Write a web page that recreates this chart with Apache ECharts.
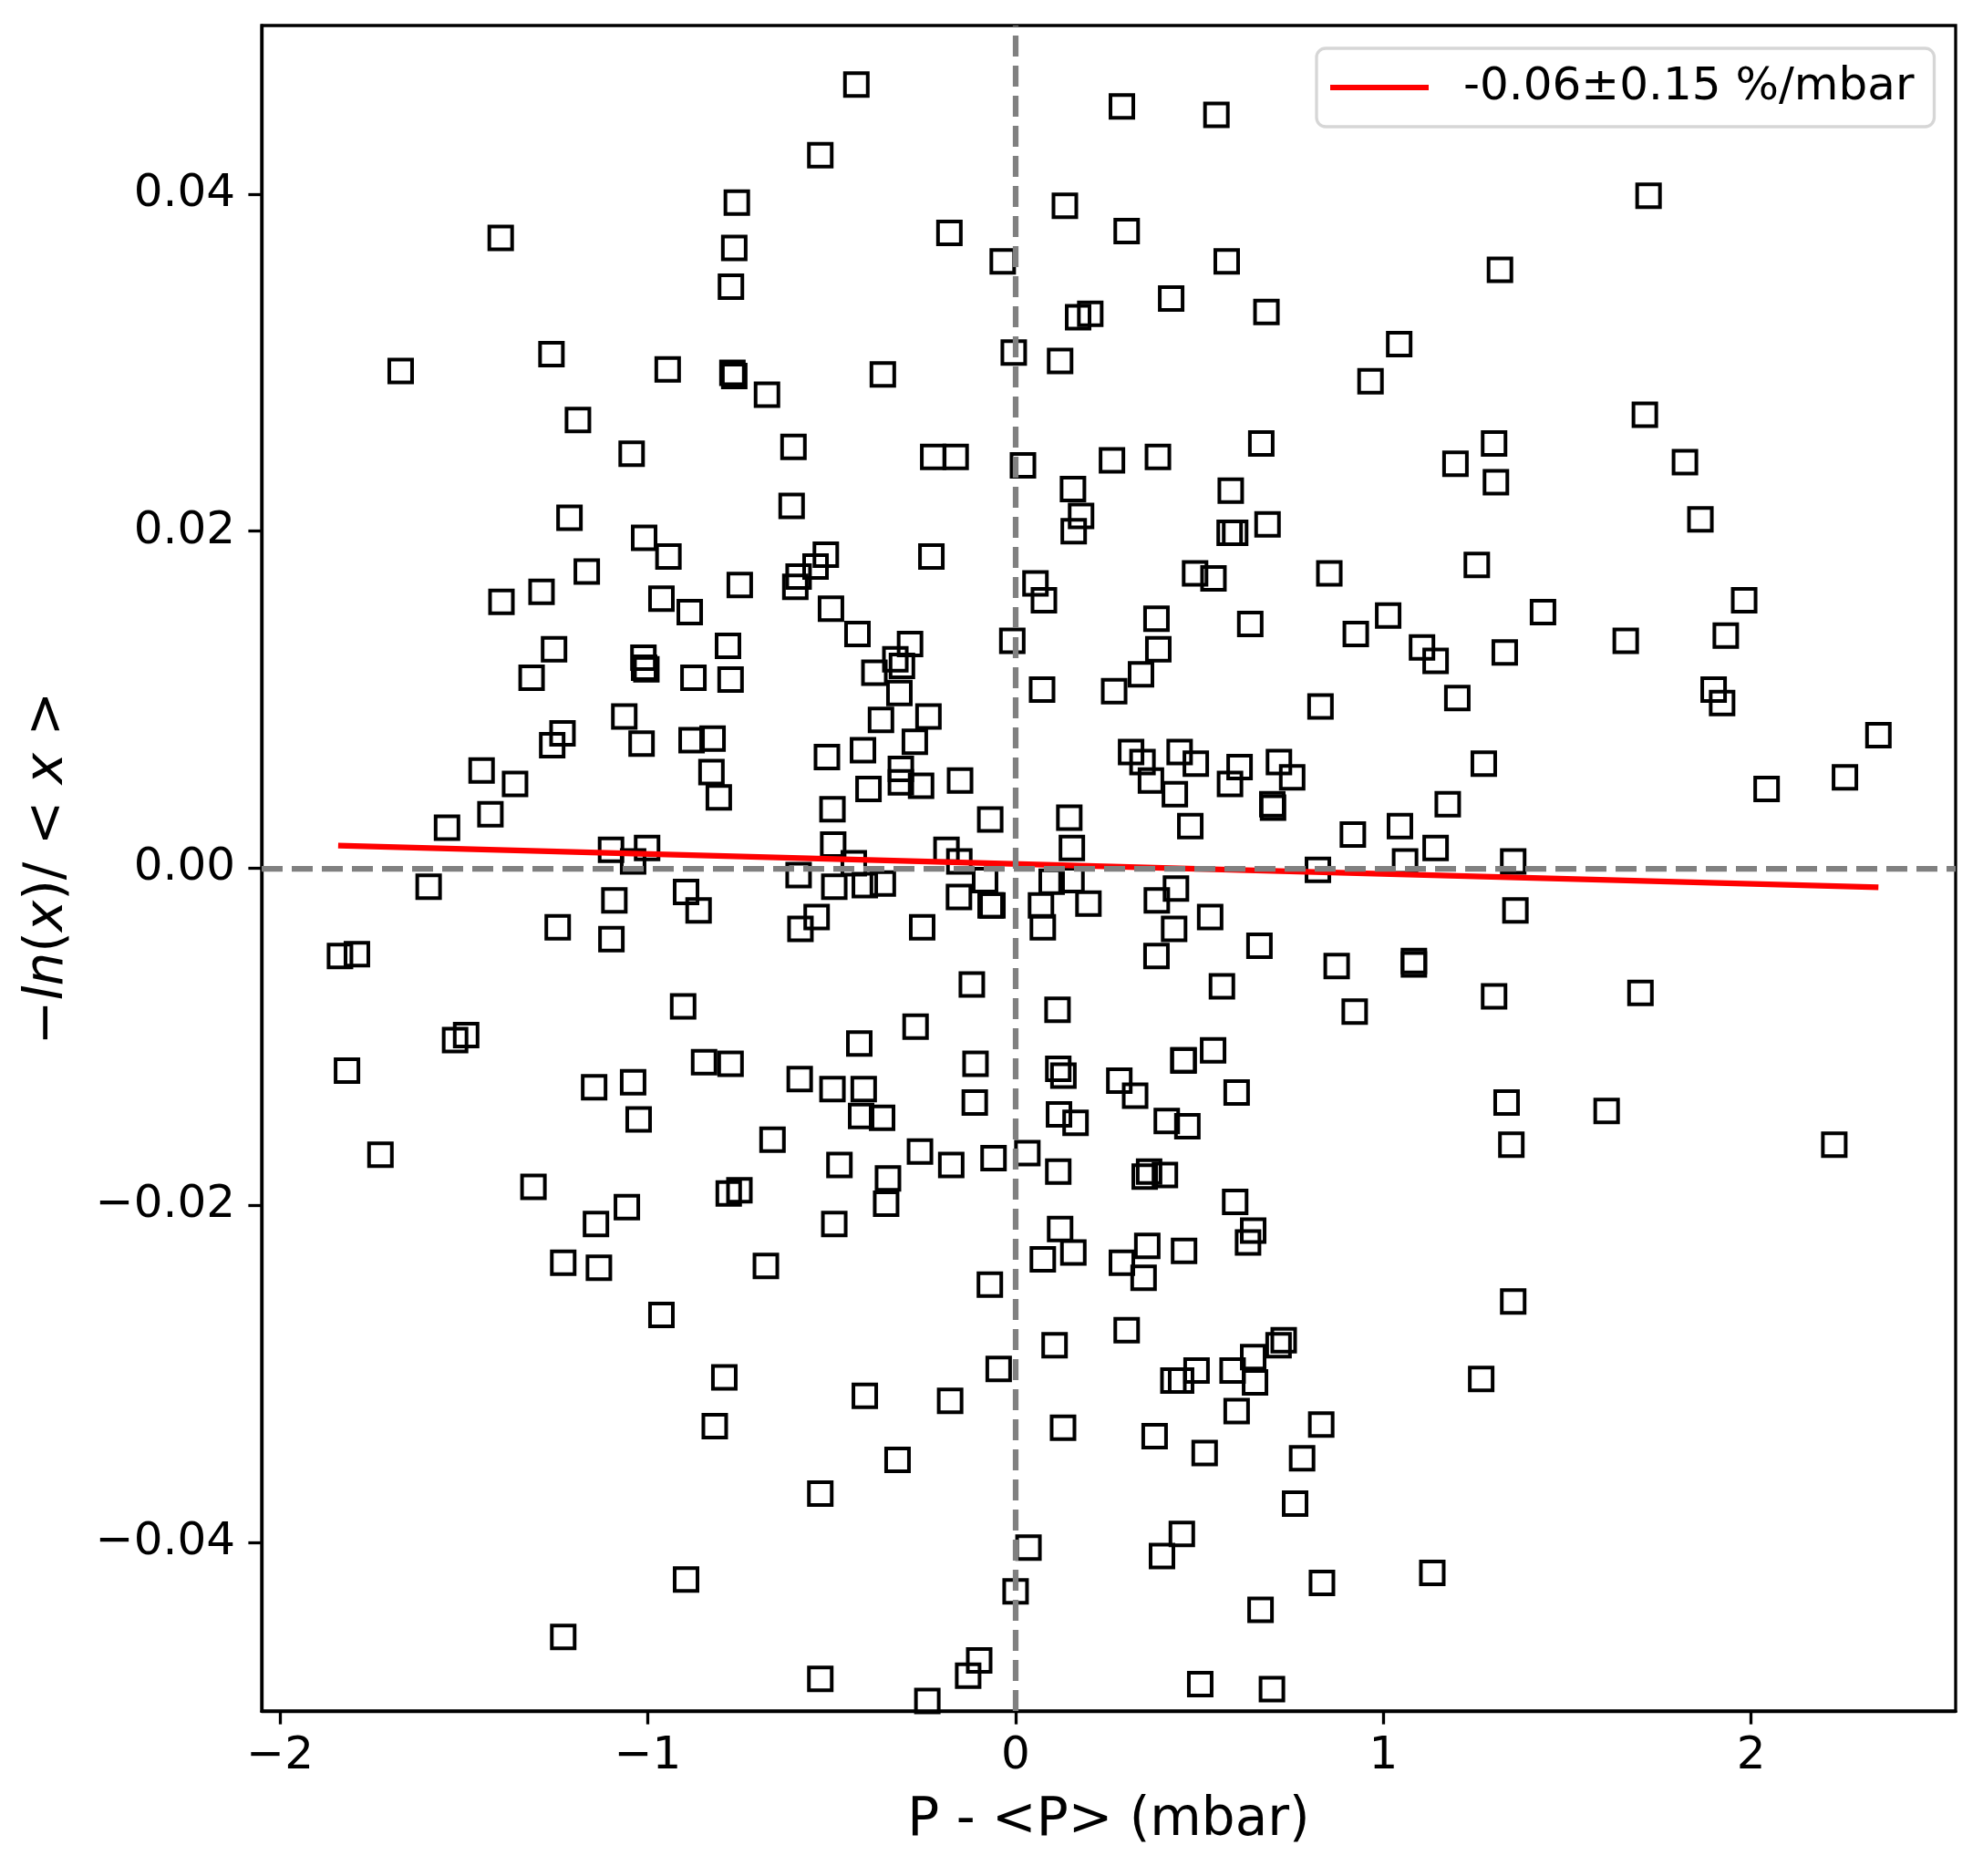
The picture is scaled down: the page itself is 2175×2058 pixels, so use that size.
<!DOCTYPE html>
<html>
<head>
<meta charset="utf-8">
<script src="https://cdn.jsdelivr.net/npm/echarts@6/dist/echarts.min.js"></script>
<style>
  html, body { margin: 0; padding: 0; background: #fff; }
  #chart { width: 2175px; height: 2058px; }
</style>
</head>
<body>
<div id="chart"></div>
<script>
// pressure deviation (mbar) of each run
const pX = [
  -0.531, -0.758, -1.400, -0.765, -0.774, -1.672, -1.262, -0.946, -0.770, -0.765, -0.676, -1.190,
  -0.433, 0.289, 0.546, 0.134, -0.180, 0.302, -0.035, 0.574, 0.423, 0.682, 0.170, 0.203, 1.043, -0.005, 0.121, -0.361, 0.965, 0.668,
  1.721, 1.317, 1.711, 1.301,
  -1.044, -0.604, -1.213, -0.609, -1.010, -0.944, -1.166, -0.599, -0.590, -0.544, -0.516, -1.398, -1.289, -0.963, -0.886, -0.750,
  -0.502, -1.255, -1.316, -1.012, -1.010, -1.004, -0.876, -0.782, -0.775, -1.064, -1.232, -1.260, -1.017, -0.881, -0.824, -1.452,
  -1.361, -0.827, -0.807, -1.428, -1.546, -0.513, -0.498, -0.496, -1.100, -1.002, -1.040, -0.590,
  -0.224, -0.163, 0.020, 0.262, 0.387, 0.156, 0.585, 0.178, 0.158, 0.582, 0.597, 0.685, -0.229, 0.054, 0.077, 0.488, 0.538, 0.853,
  -0.430, -0.287, -0.327, -0.309, -0.384, -0.316, -0.009, 0.383, 0.388, 0.341, 0.072, 0.268, 0.638, 0.925, 1.013, 0.829,
  -0.366, -0.237, -0.274, -0.415, -0.312, -0.312, -0.257, -0.400, -0.151, -0.069, 0.146, 0.153, -0.440, -0.188, -0.153,
  0.314, 0.345, 0.368, 0.446, 0.490, 0.433, 0.609, 0.583, 0.716, 0.752, 0.698, 0.700, 0.475, 0.917, 1.045, 0.822,
  1.196, 1.306, 1.820, 1.862, 1.254, 1.981, 1.434, 1.105, 1.142, 1.330, 1.659, 1.931, 1.201, 1.898, 1.921, 2.346, 1.273, 2.042,
  2.255, 1.175, 1.142, 1.059, 1.353,
  -1.596, -1.091, -0.896, -0.862, -0.541, -0.585, -1.245, -1.099, -1.837, -1.791, -0.904, -1.524, -1.494, -1.818, -1.146, -1.040,
  -0.847, -0.775, -0.587, -1.025, -1.727, -0.661, -1.311, -1.057, -1.141, -0.780, -0.751, -1.230, -1.133, -0.679,
  -0.493, -0.410, -0.361, -0.154, -0.083, -0.068, -0.063, -0.254, 0.098, 0.152, 0.069, 0.074, 0.198, 0.384, 0.436, 0.529, 0.431,
  0.383, 0.663, 0.873, 0.561, 0.922, -0.119, 0.114, -0.272, -0.425, -0.109, 0.116, 0.130, 0.456, 0.457, 0.537, 0.282, 0.325,
  0.601, -0.498, -0.413, -0.420, -0.363, -0.111, 0.118, 0.163, 0.411, 0.467, -0.479, -0.260, -0.175, -0.347, -0.352, -0.060,
  0.032, 0.116, 0.363, 0.351, 0.406, 0.597, -0.493, 0.121, 0.157, 0.074, 0.358, 0.289, 0.348, 0.458, 0.646, 0.632, -0.070,
  1.359, 1.083, 1.083, 1.301, 1.699, 1.335, 1.607, 1.348, 2.226, 1.353,
  -0.963, -0.792, -0.818, -0.531, -0.896, -1.230, -0.531,
  0.302, 0.106, -0.046, -0.410, -0.178, 0.729, 0.715, 0.646, 0.492, 0.429, 0.450, 0.590, 0.651, 0.601, 0.129, 0.378, 0.831,
  0.514, 0.779, -0.321, 0.760, 0.452, 0.398, 0.035, 0.000, 0.833, 0.666, -0.099, -0.129, -0.240, 0.502, 0.697,
  1.266, 1.133
];
// -ln(x)/<x> of each run, same order
const pY = [
  0.0423, 0.0395, 0.0374, 0.0368, 0.0345, 0.0295, 0.0305, 0.0296, 0.0294, 0.0292, 0.0281, 0.0266,
  0.0465, 0.0452, 0.0447, 0.0393, 0.0377, 0.0378, 0.0360, 0.0360, 0.0338, 0.0330, 0.0327, 0.0329, 0.0311, 0.0306, 0.0301, 0.0293, 0.0289, 0.0252,
  0.0399, 0.0355, 0.0269, 0.0252,
  0.0246, 0.0250, 0.0208, 0.0215, 0.0196, 0.0185, 0.0176, 0.0167, 0.0173, 0.0179, 0.0186, 0.0158, 0.0164, 0.0160, 0.0152, 0.0168,
  0.0154, 0.0130, 0.0113, 0.0125, 0.0119, 0.0118, 0.0113, 0.0132, 0.0112, 0.0090, 0.0080, 0.0073, 0.0074, 0.0076, 0.0077, 0.0058,
  0.0050, 0.0057, 0.0042, 0.0032, 0.0024, 0.0066, 0.0035, 0.0014, 0.0011, 0.0012, 0.0004, -0.0004,
  0.0244, 0.0244, 0.0239, 0.0242, 0.0244, 0.0225, 0.0224, 0.0209, 0.0200, 0.0199, 0.0199, 0.0204, 0.0185, 0.0169, 0.0159, 0.0175, 0.0172, 0.0175,
  0.0139, 0.0133, 0.0124, 0.0120, 0.0116, 0.0104, 0.0135, 0.0148, 0.0130, 0.0115, 0.0106, 0.0105, 0.0145, 0.0139, 0.0150, 0.0096,
  0.0088, 0.0090, 0.0075, 0.0070, 0.0059, 0.0051, 0.0049, 0.0047, 0.0052, 0.0029, 0.0030, 0.0012, 0.0003, 0.0011, 0.0004,
  0.0069, 0.0063, 0.0052, 0.0069, 0.0062, 0.0044, 0.0060, 0.0050, 0.0063, 0.0054, 0.0038, 0.0036, 0.0025, 0.0020, 0.0025, -0.0001,
  0.0240, 0.0229, 0.0241, 0.0207, 0.0180, 0.0159, 0.0152, 0.0131, 0.0123, 0.0128, 0.0135, 0.0138, 0.0101, 0.0106, 0.0098, 0.0079, 0.0062, 0.0047,
  0.0054, 0.0038, 0.0012, 0.0004, 0.0004,
  -0.0011, -0.0019, -0.0014, -0.0025, -0.0029, -0.0036, -0.0035, -0.0042, -0.0052, -0.0051, -0.0082, -0.0102, -0.0099, -0.0120, -0.0130, -0.0127,
  -0.0115, -0.0116, -0.0125, -0.0149, -0.0170, -0.0161, -0.0189, -0.0201, -0.0211, -0.0193, -0.0191, -0.0234, -0.0237, -0.0236,
  -0.0011, -0.0010, -0.0009, -0.0017, -0.0007, -0.0022, -0.0022, -0.0035, -0.0008, -0.0007, -0.0022, -0.0035, -0.0021, -0.0019, -0.0012, -0.0029, -0.0036,
  -0.0052, -0.0046, -0.0058, -0.0070, -0.0085, -0.0069, -0.0084, -0.0094, -0.0104, -0.0116, -0.0119, -0.0123, -0.0114, -0.0114, -0.0108, -0.0126, -0.0135,
  -0.0133, -0.0131, -0.0131, -0.0147, -0.0148, -0.0139, -0.0146, -0.0151, -0.0150, -0.0153, -0.0176, -0.0168, -0.0176, -0.0184, -0.0199, -0.0172,
  -0.0169, -0.0180, -0.0180, -0.0183, -0.0182, -0.0198, -0.0211, -0.0214, -0.0228, -0.0232, -0.0224, -0.0234, -0.0243, -0.0227, -0.0215, -0.0222, -0.0247,
  -0.0025, -0.0055, -0.0057, -0.0076, -0.0074, -0.0139, -0.0144, -0.0164, -0.0164, -0.0257,
  -0.0265, -0.0302, -0.0331, -0.0371, -0.0422, -0.0456, -0.0481,
  -0.0274, -0.0283, -0.0297, -0.0313, -0.0316, -0.0280, -0.0283, -0.0290, -0.0298, -0.0304, -0.0304, -0.0298, -0.0305, -0.0322, -0.0332, -0.0337, -0.0330,
  -0.0347, -0.0350, -0.0351, -0.0377, -0.0395, -0.0408, -0.0403, -0.0429, -0.0424, -0.0440, -0.0470, -0.0479, -0.0494, -0.0484, -0.0487,
  -0.0303, -0.0418
];

// linear fit, end points
const fitX = [-1.842, 2.346];
const fitY = [0.00135, -0.00113];
const fitName = '-0.06±0.15 %/mbar';

const xTicks = [-2, -1, 0, 1, 2];
const yTicks = [-0.04, -0.02, 0, 0.02, 0.04];

function minus(s) {
  return s.replace('-', '\u2212');
}

let points = [];
for (let i = 0; i < pX.length; i++) {
  points.push([pX[i], pY[i]]);
}
let fitLine = [];
for (let i = 0; i < fitX.length; i++) {
  fitLine.push([fitX[i], fitY[i]]);
}

const chart = echarts.init(document.getElementById('chart'), null, { renderer: 'canvas' });

const option = {
  animation: false,
  backgroundColor: '#fff',
  textStyle: { fontFamily: 'DejaVu Sans' },
  grid: {
    left: 287, top: 28, width: 1858, height: 1849,
    show: true, borderColor: '#000', borderWidth: 3.3, backgroundColor: '#fff'
  },
  legend: {
    data: [{ name: fitName, icon: 'rect' }],
    left: 1444, top: 53,
    padding: [18, 22, 18, 15],
    itemWidth: 108, itemHeight: 6,
    backgroundColor: 'rgba(255,255,255,0.8)',
    borderColor: '#d6d6d6', borderWidth: 3.3, borderRadius: 10,
    itemStyle: { color: '#ff0000', borderWidth: 0 },
    textStyle: { fontSize: 50, color: '#000', fontFamily: 'DejaVu Sans', padding: [0, 0, 0, 33] }
  },
  xAxis: {
    type: 'value', min: -2.05, max: 2.556,
    name: 'P - <P> (mbar)', nameLocation: 'middle', nameGap: 92,
    nameTextStyle: { fontSize: 58, color: '#000', fontFamily: 'DejaVu Sans' },
    splitLine: { show: false },
    axisLine: { onZero: false, lineStyle: { color: '#000', width: 3.3 } },
    axisTick: { customValues: xTicks, length: 14.6, lineStyle: { color: '#000', width: 3.3 } },
    axisLabel: {
      customValues: xTicks, margin: 25, fontSize: 50, color: '#000',
      formatter: v => minus(String(v))
    }
  },
  yAxis: {
    type: 'value', min: -0.05, max: 0.05,
    name: '{n|\u2212}{i|ln}{n|(}{i|x}{n|)/ < }{i|x}{n| >}',
    nameLocation: 'middle', nameGap: 205, nameRotate: 90,
    nameTextStyle: {
      rich: {
        n: { fontSize: 58, color: '#000', fontFamily: 'DejaVu Sans' },
        i: { fontSize: 58, color: '#000', fontFamily: 'DejaVu Sans', fontStyle: 'italic' }
      }
    },
    splitLine: { show: false },
    axisLine: { onZero: false, lineStyle: { color: '#000', width: 3.3 } },
    axisTick: { customValues: yTicks, length: 14.6, lineStyle: { color: '#000', width: 3.3 } },
    axisLabel: {
      customValues: yTicks, margin: 29, fontSize: 50, color: '#000',
      formatter: v => minus(v.toFixed(2))
    }
  },
  series: [
    {
      type: 'scatter',
      data: points,
      symbol: 'rect',
      symbolSize: 25,
      itemStyle: { color: 'rgba(0,0,0,0)', borderColor: '#000', borderWidth: 4, opacity: 1 },
      z: 2,
      markLine: {
        silent: true, symbol: 'none', animation: false,
        label: { show: false },
        lineStyle: { color: '#808080', type: [23, 10], width: 6.25, opacity: 1 },
        data: [{ xAxis: 0 }, { yAxis: 0 }]
      }
    },
    {
      name: fitName,
      type: 'line',
      data: fitLine,
      symbol: 'none',
      legendIcon: 'rect',
      lineStyle: { color: '#ff0000', width: 6.25 },
      itemStyle: { color: '#ff0000' },
      z: 4
    }
  ]
};

chart.setOption(option);
</script>
</body>
</html>
